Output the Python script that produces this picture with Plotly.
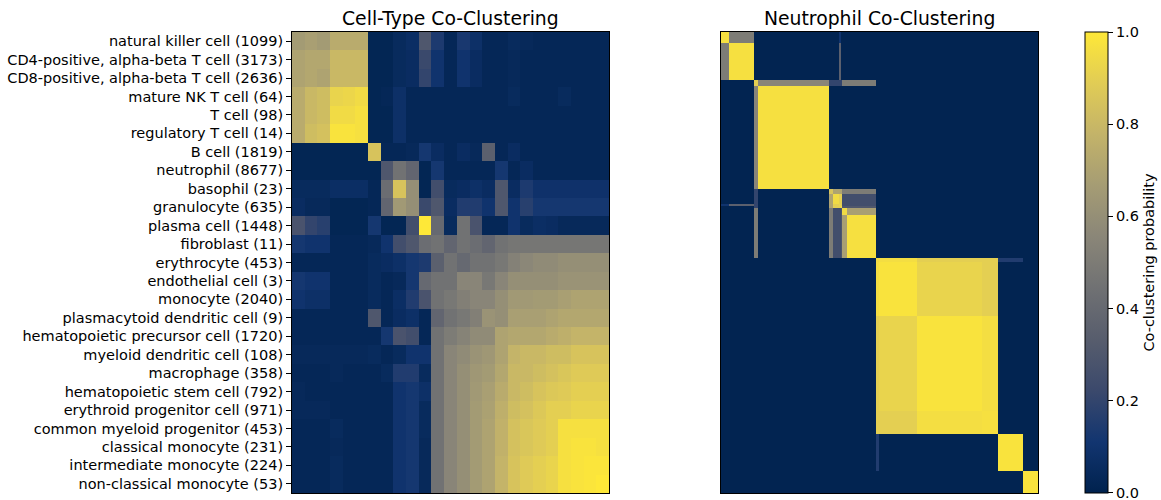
import plotly.graph_objects as go
import numpy as np

W, H = 1161, 500

# ---------------- Left: cell-type co-clustering ----------------
cell_types = [
    "natural killer cell (1099)",
    "CD4-positive, alpha-beta T cell (3173)",
    "CD8-positive, alpha-beta T cell (2636)",
    "mature NK T cell (64)",
    "T cell (98)",
    "regulatory T cell (14)",
    "B cell (1819)",
    "neutrophil (8677)",
    "basophil (23)",
    "granulocyte (635)",
    "plasma cell (1448)",
    "fibroblast (11)",
    "erythrocyte (453)",
    "endothelial cell (3)",
    "monocyte (2040)",
    "plasmacytoid dendritic cell (9)",
    "hematopoietic precursor cell (1720)",
    "myeloid dendritic cell (108)",
    "macrophage (358)",
    "hematopoietic stem cell (792)",
    "erythroid progenitor cell (971)",
    "common myeloid progenitor (453)",
    "classical monocyte (231)",
    "intermediate monocyte (224)",
    "non-classical monocyte (53)",
]

row_nk    = [.66,.68,.66,.74,.74,.74,.02,.02,.05,.07,.30,.14,.03,.13,.08,.03,.03,.05,.04,.03,.03,.03,.03,.03,.03]
row_cd4   = [.70,.72,.72,.80,.80,.80,.02,.02,.05,.06,.22,.10,.03,.10,.06,.03,.03,.04,.03,.03,.03,.03,.03,.03,.03]
row_cd8   = [.70,.72,.70,.80,.80,.80,.02,.02,.05,.06,.20,.10,.03,.10,.06,.03,.03,.04,.03,.03,.03,.03,.03,.03,.03]
row_mnkt  = [.74,.80,.82,.92,.93,.95,.02,.03,.08,.03,.03,.03,.03,.03,.03,.03,.03,.05,.03,.03,.03,.05,.03,.03,.03]
row_t     = [.74,.80,.82,.95,.95,.97,.02,.02,.08,.03,.03,.03,.03,.03,.03,.03,.03,.03,.03,.03,.03,.03,.03,.03,.03]
row_treg  = [.74,.82,.84,.98,.98,.97,.02,.02,.08,.03,.03,.03,.03,.03,.03,.03,.03,.03,.03,.03,.03,.03,.03,.03,.03]
row_b     = [.02,.02,.02,.02,.02,.02,.85,.03,.03,.04,.12,.06,.03,.06,.04,.35,.03,.06,.03,.03,.03,.03,.03,.03,.03]
row_neut  = [.02,.02,.02,.02,.02,.02,.02,.30,.45,.38,.02,.12,.03,.03,.03,.03,.12,.03,.06,.03,.03,.03,.03,.03,.03]
row_baso  = [.05,.05,.05,.07,.07,.07,.03,.42,.85,.60,.02,.25,.05,.06,.08,.06,.30,.06,.14,.09,.09,.09,.09,.09,.09]
row_gran  = [.06,.04,.04,.02,.02,.02,.03,.38,.65,.60,.22,.30,.06,.15,.15,.10,.30,.10,.17,.12,.12,.12,.12,.12,.12]
row_plas  = [.28,.20,.17,.02,.02,.02,.12,.02,.02,.25,1.0,.40,.05,.45,.28,.03,.03,.10,.05,.07,.06,.04,.04,.04,.04]
row_fib   = [.12,.10,.10,.03,.03,.03,.04,.10,.25,.30,.42,.45,.38,.45,.42,.38,.45,.47,.47,.47,.47,.47,.47,.47,.47]
row_ery   = [.03,.03,.03,.03,.03,.03,.05,.06,.08,.12,.14,.35,.45,.40,.45,.45,.48,.53,.56,.58,.58,.60,.60,.60,.60]
row_endo  = [.12,.10,.10,.03,.03,.03,.05,.03,.04,.12,.40,.45,.45,.55,.55,.48,.55,.60,.60,.60,.60,.62,.62,.62,.62]
row_mono  = [.10,.08,.08,.03,.03,.03,.05,.03,.07,.15,.28,.45,.48,.52,.55,.55,.60,.65,.65,.66,.66,.68,.70,.70,.70]
row_pdc   = [.03,.03,.03,.03,.03,.03,.30,.03,.06,.08,.03,.38,.45,.48,.52,.62,.60,.68,.68,.68,.70,.72,.72,.72,.72]
row_hpc   = [.03,.03,.03,.03,.03,.03,.03,.12,.28,.25,.03,.45,.50,.54,.58,.58,.70,.72,.72,.72,.74,.76,.78,.78,.78]
row_mdc   = [.04,.04,.04,.04,.04,.04,.05,.03,.05,.10,.10,.45,.55,.58,.62,.64,.70,.78,.80,.80,.82,.82,.85,.85,.85]
row_mac   = [.03,.03,.03,.04,.03,.03,.03,.05,.15,.15,.05,.45,.55,.60,.64,.66,.72,.80,.80,.82,.84,.86,.88,.88,.88]
row_hsc   = [.04,.03,.03,.03,.03,.03,.03,.03,.10,.12,.08,.45,.55,.60,.65,.68,.74,.80,.82,.85,.87,.88,.90,.90,.90]
row_eryp  = [.04,.04,.04,.03,.03,.03,.03,.03,.10,.12,.05,.45,.55,.60,.66,.69,.76,.82,.84,.87,.90,.90,.92,.92,.92]
row_cmp   = [.03,.03,.03,.05,.03,.03,.03,.03,.10,.12,.05,.45,.55,.60,.66,.70,.77,.84,.86,.88,.90,.97,.97,.97,.97]
row_cmono = [.03,.03,.03,.04,.03,.03,.03,.03,.10,.12,.04,.45,.55,.60,.66,.70,.77,.84,.86,.88,.90,.97,.98,.98,.97]
row_imono = [.03,.03,.03,.05,.03,.03,.03,.03,.10,.12,.04,.45,.55,.60,.66,.70,.78,.85,.88,.90,.92,.97,.98,.99,.99]
row_ncmono= [.03,.03,.03,.05,.03,.03,.03,.03,.10,.12,.04,.45,.55,.60,.66,.70,.78,.85,.88,.90,.92,.97,.98,.99,1.0]

celltype_matrix = [row_nk, row_cd4, row_cd8, row_mnkt, row_t, row_treg, row_b, row_neut,
                   row_baso, row_gran, row_plas, row_fib, row_ery, row_endo, row_mono, row_pdc,
                   row_hpc, row_mdc, row_mac, row_hsc, row_eryp, row_cmp, row_cmono, row_imono,
                   row_ncmono]

# ---------------- Right: neutrophil sub-cluster co-clustering ----------------
# relative sizes of neutrophil sub-clusters (in display order)
neut_sizes = [24, 81, 13, 222, 12, 21, 4, 4, 17, 92, 8, 119, 205, 51, 79, 48]
neut_background = 0.01
# (cluster i, cluster j, co-clustering probability), symmetric
neut_pairs = [
    (0, 0, .97), (1, 1, .97), (0, 1, .50),
    (2, 2, .90), (2, 3, .55), (3, 3, .97),
    (2, 4, .20), (2, 5, .20), (2, 6, .20), (2, 7, .20), (2, 8, .50), (2, 9, .50),
    (4, 4, .85), (4, 5, .70), (4, 6, .70), (4, 7, .70),
    (5, 5, .95), (5, 6, .90), (5, 7, .90), (6, 6, .92), (6, 7, .90), (7, 7, .95),
    (4, 8, .50), (4, 9, .50), (5, 8, .25), (5, 9, .25), (6, 8, .25), (6, 9, .25),
    (7, 8, .30), (7, 9, .30), (6, 1, .35), (6, 0, .10),
    (8, 8, .95), (8, 9, .68), (9, 9, .97),
    (10, 10, .95), (10, 11, .96), (11, 11, .98), (10, 12, .90), (10, 13, .90),
    (11, 12, .92), (11, 13, .90), (12, 12, .98), (12, 13, .96), (13, 13, .97),
    (10, 14, .15), (14, 14, .98), (15, 15, .98),
]

colorbar_ticks = [0.0, 0.2, 0.4, 0.6, 0.8, 1.0]

n = len(neut_sizes)
neut_matrix = np.full((n, n), neut_background)
for i, j, v in neut_pairs:
    neut_matrix[i, j] = v
    neut_matrix[j, i] = v
neut_edges = np.concatenate([[0], np.cumsum(neut_sizes)])
total = neut_edges[-1]

# ---------------- Figure ----------------
fig = go.Figure()

fig.add_trace(go.Heatmap(
    z=celltype_matrix, x=list(range(25)), y=list(range(25)),
    coloraxis="coloraxis", xaxis="x", yaxis="y", hoverinfo="skip",
))
fig.add_trace(go.Heatmap(
    z=neut_matrix, x=neut_edges, y=neut_edges,
    coloraxis="coloraxis", xaxis="x2", yaxis="y2", hoverinfo="skip",
))

y0 = 1 - 493 / H
y1 = 1 - 32 / H
font = "DejaVu Sans, Arial, sans-serif"
FS = 14.5
TFS = 18.8

fig.update_layout(
    width=W, height=H,
    margin=dict(l=0, r=0, t=0, b=0),
    paper_bgcolor="white", plot_bgcolor="white",
    font=dict(family=font, size=FS, color="black"),
    showlegend=False,
    xaxis=dict(domain=[292 / W, 609 / W], range=[-0.5, 24.5], showticklabels=False,
               ticks="", showgrid=False, zeroline=False, showline=True, mirror=True,
               linecolor="black", linewidth=1),
    yaxis=dict(domain=[y0, y1], range=[24.5, -0.5], tickvals=list(range(25)),
               ticktext=cell_types, ticks="outside", ticklen=5, tickcolor="black",
               showgrid=False, zeroline=False, showline=True, mirror=True,
               linecolor="black", linewidth=1, tickfont=dict(size=FS, color="black")),
    xaxis2=dict(domain=[721 / W, 1038 / W], range=[0, total], showticklabels=False,
                ticks="", showgrid=False, zeroline=False, showline=True, mirror=True,
                linecolor="black", linewidth=1, anchor="y2"),
    yaxis2=dict(domain=[y0, y1], range=[total, 0], showticklabels=False, ticks="",
                showgrid=False, zeroline=False, showline=True, mirror=True,
                linecolor="black", linewidth=1, anchor="x2"),
    coloraxis=dict(
        colorscale="Cividis", cmin=-0.0005, cmax=1,
        colorbar=dict(
            x=1085 / W, xanchor="left", y=(y0 + y1) / 2, yanchor="middle",
            len=(y1 - y0), lenmode="fraction", thickness=23, thicknessmode="pixels",
            outlinewidth=1, outlinecolor="black",
            ticks="outside", ticklen=5, tickcolor="black",
            tickmode="array",
            tickvals=colorbar_ticks,
            ticktext=[f"{t:.1f}" for t in colorbar_ticks],
            ticklabeloverflow="allow",
            tickfont=dict(size=FS, color="black"),
            title=dict(text="Co-clustering probability", side="right",
                       font=dict(size=FS, color="black")),
            xpad=0, ypad=0,
        ),
    ),
    annotations=[
        dict(text="Cell-Type Co-Clustering", x=(292 + 609) / 2 / W, y=1 - 18 / H,
             xref="paper", yref="paper", showarrow=False, xanchor="center",
             yanchor="middle", font=dict(size=TFS, color="black")),
        dict(text="Neutrophil Co-Clustering", x=(721 + 1038) / 2 / W, y=1 - 18 / H,
             xref="paper", yref="paper", showarrow=False, xanchor="center",
             yanchor="middle", font=dict(size=TFS, color="black")),
    ],
)

fig.write_html("out.html",
               config={"displayModeBar": False},
               post_script="document.body.style.margin='0px';document.body.style.overflow='hidden';")
